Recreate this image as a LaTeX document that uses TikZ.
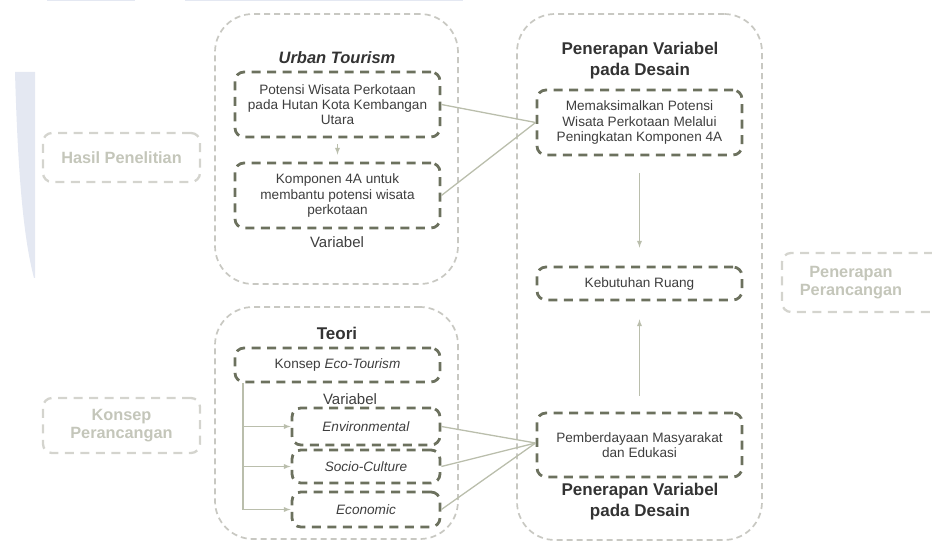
\documentclass[tikz,border=0pt]{standalone}
\usepackage{fontspec}
\setmainfont{Liberation Sans}
\usepackage{tikz}
\usetikzlibrary{calc, positioning, arrows}
\definecolor{grpline}{RGB}{200,200,194}
\definecolor{boxline}{RGB}{108,113,94}
\definecolor{linkline}{RGB}{186,190,172}
\definecolor{fadeline}{RGB}{212,212,206}
\definecolor{fadetxt}{RGB}{196,198,186}
\definecolor{bodytxt}{RGB}{62,62,62}
\definecolor{bandblue}{RGB}{228,232,242}
\begin{document}
\begin{tikzpicture}[x=1pt, y=-1pt,
            group/.style={draw=grpline, line width=1.7pt, dash pattern=on 6pt off 4pt, rounded corners=38pt, inner sep=0pt},
            box/.style={draw=boxline, line width=2.8pt, dash pattern=on 9pt off 6.5pt, rounded corners=9pt, align=center, text=bodytxt, inner sep=0pt, font=\fontsize{13.6}{15.2}\selectfont},
            side/.style={draw=fadeline, line width=2.3pt, dash pattern=on 9pt off 6.5pt, rounded corners=9pt, inner sep=0pt},
            sidetext/.style={align=center, text=fadetxt, font=\fontsize{16.3}{18.5}\selectfont\bfseries},
            title/.style={align=center, text=black!80, font=\fontsize{17}{21}\selectfont\bfseries},
            label/.style={text=bodytxt, font=\fontsize{15}{17}\selectfont},
            link/.style={draw=linkline, line width=1.3pt},
            arr/.style={link, -latex}]
            \useasboundingbox (0,0) rectangle (932,545);
            \fill[bandblue] (35,72) -- (15,72) .. controls (18,180) and (24,240) .. (34,278) -- (35,278) -- cycle;
            \draw[bandblue, line width=1.5pt] (47,0.5) -- (135,0.5) (185,0.5) -- (463,0.5);

            \node[group, minimum width=243, minimum height=270] (urbangrp) at (336.5,149) {};
            \node[group, minimum width=245, minimum height=526] (desaingrp) at (639.5,277) {};
            \node[group, minimum width=243, minimum height=232] (teorigrp) at (336.5,423) {};

            \node[title, font=\fontsize{16.5}{20}\selectfont\bfseries\itshape] (urbantitle) at (337,58) {Urban Tourism};
            \node[box, minimum width=205, minimum height=65] (potensi) at (337.5,104.5) {Potensi Wisata Perkotaan\\pada Hutan Kota Kembangan\\Utara};
            \node[box, minimum width=205, minimum height=65] (komponen) at (337.5,195.5) {Komponen 4A untuk\\membantu potensi wisata\\perkotaan};
            \node[label] (variabelA) at (337,242) {Variabel};

            \node[title] (desaintop) at (640,61) {Penerapan Variabel\\pada Desain};
            \node[box, minimum width=205, minimum height=65] (maksimal) at (639.5,122.5) {Memaksimalkan Potensi\\Wisata Perkotaan Melalui\\Peningkatan Komponen 4A};
            \node[box, minimum width=205, minimum height=33] (ruang) at (639.5,283.5) {Kebutuhan Ruang};
            \node[box, minimum width=205, minimum height=64] (berdaya) at (639.5,445) {Pemberdayaan Masyarakat\\dan Edukasi};
            \node[title] (desainbottom) at (640,502) {Penerapan Variabel\\pada Desain};

            \node[title] (teorititle) at (337,333) {Teori};
            \node[box, minimum width=205, minimum height=34] (ecotour) at (337.5,365) {Konsep \textit{Eco-Tourism}};
            \node[label] (variabelB) at (350,399) {Variabel};
            \node[box, minimum width=148, minimum height=37] (environ) at (366,426.5) {\textit{Environmental}};
            \node[box, minimum width=148, minimum height=33] (socio) at (366,466.5) {\textit{Socio-Culture}};
            \node[box, minimum width=148, minimum height=35] (econ) at (366,509.5) {\textit{Economic}};

            \node[side, minimum width=157, minimum height=49] (hasil) at (121.5,157.5) {};
            \node[sidetext] at (hasil) {Hasil Penelitian};
            \node[side, minimum width=157, minimum height=55] (konsep) at (121.5,425.5) {};
            \node[sidetext] at (konsep) {Konsep\\Perancangan};
            \node[side, minimum width=160, minimum height=59] (terap) at (862,282.5) {};
            \node[sidetext] at ([xshift=-11]terap.center) {Penerapan\\Perancangan};

            \draw[arr, shorten <=6pt, shorten >=7pt] (potensi) -- (komponen);
            \draw[link] (potensi.east) -- (maksimal.west);
            \draw[link] (komponen.east) -- (maksimal.west);
            \draw[arr, shorten <=17pt, shorten >=18pt] (maksimal) -- (ruang);
            \draw[arr, shorten <=16pt, shorten >=18pt] (berdaya) -- (ruang);

            \coordinate (trunk) at ([xshift=-94.5]ecotour.south);
            \draw[arr] (trunk) |- (environ.west);
            \draw[arr] (trunk) |- (socio.west);
            \draw[arr] (trunk) |- (econ.west);
            \foreach \v in {environ, socio, econ}
                \draw[link] (\v.east) -- ([yshift=2]berdaya.west);
        \end{tikzpicture}
\end{document}
